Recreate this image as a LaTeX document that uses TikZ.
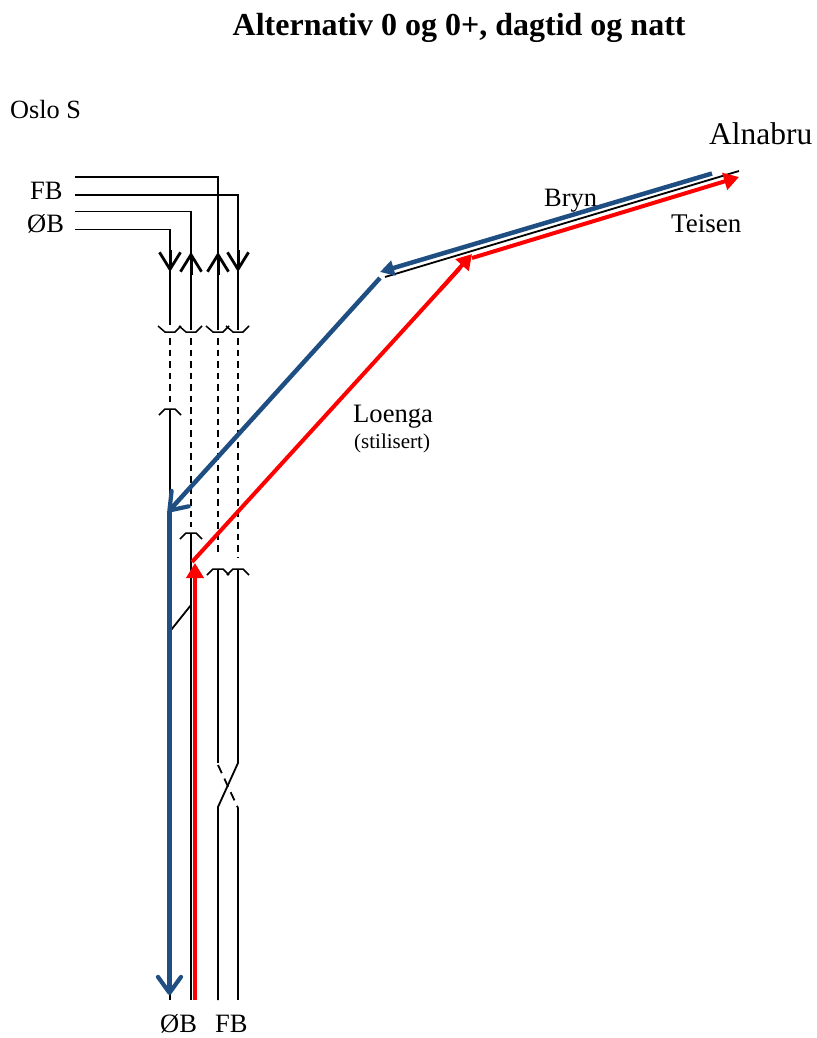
\documentclass[tikz,border=0pt]{standalone}
\usepackage{fontspec}
\setmainfont{Liberation Serif}
\usetikzlibrary{arrows.meta}
\tikzset{
  x=1pt,y=-1pt,
  track/.style={black,line width=1.8pt},
  dashtrack/.style={black,line width=1.8pt,dash pattern=on 6.5pt off 5pt},
  stub/.style={black,line width=3pt,-{Straight Barb[length=17pt,width=21pt,line width=2.8pt]}},
  capline/.style={black,line width=1.5pt},
  bluepath/.style={color={rgb,255:red,31;green,78;blue,130},line width=4.5pt},
  redpath/.style={red,line width=4pt},
  blueopen/.style={bluepath,-{Straight Barb[length=16pt,width=23pt,line width=4.2pt,round]}},
  bluetri/.style={bluepath,-{Triangle[length=14pt,width=15pt]}},
  redtri/.style={redpath,-{Triangle[length=15pt,width=17pt]}},
  lbl/.style={inner sep=0pt,anchor=base west},
}
\newcommand{\cupmark}[2]{\draw[capline] (#1-12,#2-6) -- (#1-5,#2) -- (#1+5,#2) -- (#1+11,#2-6);}
\newcommand{\capmark}[2]{\draw[capline] (#1-11,#2+6) -- (#1-5,#2) -- (#1+5,#2) -- (#1+11,#2+6);}
\begin{document}
\begin{tikzpicture}
\useasboundingbox (0,0) rectangle (816,1038);
% named points
\coordinate (a1) at (75,229.5); \coordinate (a2) at (170,229.5);
\coordinate (b1) at (75,211.5); \coordinate (b2) at (191,211.5);
\coordinate (c1) at (75,177);   \coordinate (c2) at (218,177);
\coordinate (d1) at (75,195);   \coordinate (d2) at (238,195);
% texts
\node[lbl,font=\fontsize{32}{34}\selectfont\bfseries] (title) at (232.5,36) {Alternativ 0 og 0+, dagtid og natt};
\node[lbl,font=\fontsize{26.3}{28}\selectfont] (oslo) at (10,119) {Oslo S};
\node[lbl,font=\fontsize{31.5}{34}\selectfont] (alna) at (709,144) {Alnabru};
\node[lbl,font=\fontsize{26.5}{28}\selectfont] (fb1) at (30,199) {FB};
\node[lbl,font=\fontsize{26.5}{28}\selectfont] (ob1) at (27,232) {ØB};
\node[lbl,font=\fontsize{26.5}{28}\selectfont] (bryn) at (544,206) {Bryn};
\node[lbl,font=\fontsize{27}{28}\selectfont] (teisen) at (671,232) {Teisen};
\node[lbl,font=\fontsize{26.6}{28}\selectfont] (loenga) at (353,422) {Loenga};
\node[lbl,font=\fontsize{21}{23}\selectfont] (stil) at (354,448) {(stilisert)};
\node[lbl,font=\fontsize{26.5}{28}\selectfont] (ob2) at (160,1032.5) {ØB};
\node[lbl,font=\fontsize{26.5}{28}\selectfont] (fb2) at (215,1032.5) {FB};
% top tracks
\draw[track] (a1) -- (a2) -- (170,325);
\draw[track] (b1) -- (b2) -- (191,330);
\draw[track] (c1) -- (c2) -- (218,330);
\draw[track] (d1) -- (d2) -- (238,330);
\draw[stub] (170,250) -- (170,272);
\draw[stub] (191,275) -- (191,252);
\draw[stub] (218,275) -- (218,252);
\draw[stub] (238,250) -- (238,272);
\cupmark{170}{332}\cupmark{191}{332}\cupmark{218}{332}\cupmark{238}{332}
% dashed sections
\draw[dashtrack] (170,338) -- (170,403);
\draw[dashtrack] (191,338) -- (191,527);
\draw[dashtrack] (218,338) -- (218,554);
\draw[dashtrack] (238,338) -- (238,557);
\capmark{170}{409}\capmark{191}{533}\capmark{218}{569}\capmark{238}{569}
% lower tracks
\draw[track] (170,409) -- (170,1000);
\draw[track] (191,533) -- (191,1000);
\draw[track] (218,569) -- (218,763);
\draw[track] (238,569) -- (238,763) -- (218,807) -- (218,1000);
\draw[track] (238,808) -- (238,1000);
\draw[dashtrack,dash pattern=on 9pt off 6pt] (218,765) -- (238,808);
\draw[track] (171,630) -- (191,605);
% Alnabru line
\draw[track] (385,277) -- (739,171);
% blue
\draw[bluetri] (712,173.5) -- (380,272);
\draw[blueopen] (380,278) -- (168,512);
\draw[blueopen] (169.5,511) -- (169.5,995);
% red
\draw[redpath] (195,1000) -- (195,580);
\draw[redtri] (195,590) -- (195,563);
\draw[redpath] (192,562) -- (460,268);
\draw[redtri] (440,290) -- (472,254);
\draw[redtri] (472,258) -- (739,177);
\end{tikzpicture}
\end{document}
